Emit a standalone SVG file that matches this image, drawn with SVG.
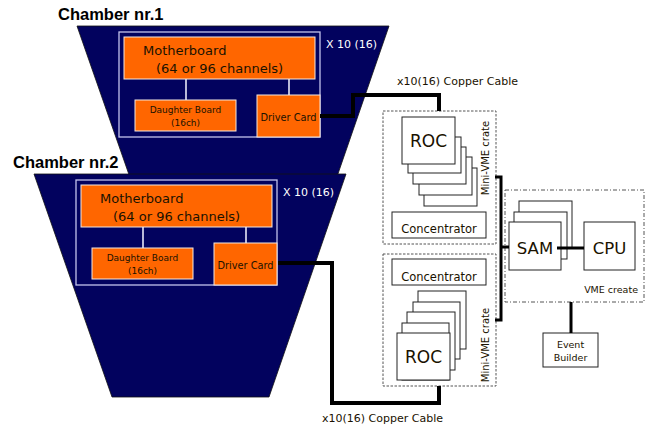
<svg xmlns="http://www.w3.org/2000/svg" width="652" height="431" viewBox="0 0 652 431">
<style>
.trap{fill:#02025e;stroke:#111;stroke-width:0.8}
.frame{fill:none;stroke:#c4c4ec;stroke-width:1.3}
.org{fill:#ff6600;stroke:#f4e8e0;stroke-width:1}
.t{font-family:"DejaVu Sans",Verdana,sans-serif;fill:#1a1200}
.w{font-family:"DejaVu Sans",Verdana,sans-serif;fill:#ffffff}
.ttl{font-family:"Liberation Sans",Arial,sans-serif;font-weight:bold;font-size:16.5px;fill:#000}
.box{fill:#fff;stroke:#222;stroke-width:1}
.dash{fill:none;stroke:#555;stroke-width:1;stroke-dasharray:2.5,1.5}
.dd{fill:none;stroke:#555;stroke-width:1;stroke-dasharray:4,2,1,2}
.cab{fill:none;stroke:#000;stroke-width:4;stroke-linejoin:miter}
.bus{fill:none;stroke:#000;stroke-width:3}
.wl{stroke:#e8e8f8;stroke-width:1.6}
</style>
<text class="ttl" x="58" y="20">Chamber nr.1</text>
<text class="ttl" x="13" y="168">Chamber nr.2</text>
<g id="chamber1">
<polygon class="trap" points="77,26 389,26 312,249 155,249"/>
<rect class="frame" x="119" y="32" width="201" height="105"/>
<text class="w" x="326" y="48" font-size="11">X 10 (16)</text>
<g id="motherboard1"><rect class="org" x="124" y="37" width="191" height="42"/>
<text class="t" x="143" y="55" font-size="13">Motherboard</text>
<text class="t" x="156" y="73" font-size="13">(64 or 96 channels)</text></g>
<g id="daughter1"><rect class="org" x="135" y="100" width="101" height="31"/>
<text class="t" x="185.5" y="113" font-size="9" text-anchor="middle">Daughter Board</text>
<text class="t" x="185.5" y="126" font-size="9" text-anchor="middle">(16ch)</text></g>
<g id="driver1"><rect class="org" x="257" y="95" width="63" height="42"/>
<text class="t" x="288.5" y="121" font-size="9.8" text-anchor="middle">Driver Card</text></g>
</g>
<g id="chamber2" transform="translate(-43,148)">
<polygon class="trap" points="77,26 389,26 312,249 155,249"/>
<rect class="frame" x="119" y="32" width="201" height="105"/>
<text class="w" x="326" y="48" font-size="11">X 10 (16)</text>
<g id="motherboard2"><rect class="org" x="124" y="37" width="191" height="42"/>
<text class="t" x="143" y="55" font-size="13">Motherboard</text>
<text class="t" x="156" y="73" font-size="13">(64 or 96 channels)</text></g>
<g id="daughter2"><rect class="org" x="135" y="100" width="101" height="31"/>
<text class="t" x="185.5" y="113" font-size="9" text-anchor="middle">Daughter Board</text>
<text class="t" x="185.5" y="126" font-size="9" text-anchor="middle">(16ch)</text></g>
<g id="driver2"><rect class="org" x="257" y="95" width="63" height="42"/>
<text class="t" x="288.5" y="121" font-size="9.8" text-anchor="middle">Driver Card</text></g>
</g>
<g id="crate1">
<rect class="dash" x="383" y="111" width="113" height="133"/>
<g id="roc1">
<rect class="box" x="424" y="168" width="53" height="38"/>
<rect class="box" x="419" y="157" width="53" height="38"/>
<rect class="box" x="413" y="147" width="53" height="37"/>
<rect class="box" x="408" y="137" width="53" height="36"/>
<rect class="box" x="402" y="117" width="53" height="47"/>
<text class="t" x="428.5" y="147" font-size="17" text-anchor="middle">ROC</text></g>
<g id="conc1"><rect class="box" x="392" y="212" width="94" height="26"/>
<text class="t" x="439" y="233" font-size="11.5" text-anchor="middle">Concentrator</text></g>
<text class="t" transform="translate(489,158) rotate(-90)" font-size="10" text-anchor="middle">Mini-VME crate</text>
</g>
<g id="crate2">
<rect class="dash" x="383" y="254" width="113" height="132"/>
<g id="conc2"><rect class="box" x="392" y="259" width="94" height="26"/>
<text class="t" x="439" y="281" font-size="11.5" text-anchor="middle">Concentrator</text></g>
<g id="roc2">
<rect class="box" x="418" y="291" width="48" height="58"/>
<rect class="box" x="413" y="302" width="47" height="57"/>
<rect class="box" x="407" y="312" width="48" height="58"/>
<rect class="box" x="402" y="323" width="47" height="57"/>
<rect class="box" x="397" y="333" width="53" height="47"/>
<text class="t" x="423.5" y="363" font-size="17" text-anchor="middle">ROC</text></g>
<text class="t" transform="translate(489,345) rotate(-90)" font-size="10" text-anchor="middle">Mini-VME crate</text>
</g>
<g id="vmecrate">
<rect class="dd" x="505" y="190" width="139" height="112"/>
<text class="t" x="638" y="293" font-size="9.5" text-anchor="end">VME create</text>
<g id="sam">
<rect class="box" x="519" y="201" width="53" height="47"/>
<rect class="box" x="514" y="212" width="53" height="47"/>
<rect class="box" x="509" y="222" width="52" height="48"/>
<text class="t" x="535" y="254" font-size="16.5" text-anchor="middle">SAM</text></g>
<g id="cpu"><rect class="box" x="584" y="222" width="51" height="48"/>
<text class="t" x="609.5" y="254" font-size="16.5" text-anchor="middle">CPU</text></g>
</g>
<g id="eventbuilder"><rect class="box" x="543" y="333" width="55" height="34"/>
<text class="t" x="570.5" y="348" font-size="9.5" text-anchor="middle">Event</text>
<text class="t" x="570.5" y="361" font-size="9.5" text-anchor="middle">Builder</text></g>
<g id="connectors">
<line class="wl" x1="186" y1="79" x2="186" y2="100"/>
<line class="wl" x1="289" y1="79" x2="289" y2="95"/>
<line class="wl" x1="143" y1="227" x2="143" y2="248"/>
<line class="wl" x1="246" y1="227" x2="246" y2="243"/>
<polyline class="cab" points="320,116 353,116 353,95 439,95 439,111"/>
<polyline class="cab" points="278,263 332,263 332,403 439,403 439,386"/>
<polyline class="bus" points="495,177 501,177 501,320 495,320"/>
<line class="bus" x1="501" y1="247" x2="509" y2="247"/>
<line class="bus" x1="557" y1="248" x2="584" y2="248"/>
<line class="bus" x1="571" y1="302" x2="571" y2="333"/>
<text class="t" x="397" y="85" font-size="11">x10(16) Copper Cable</text>
<text class="t" x="322" y="422" font-size="11">x10(16) Copper Cable</text>
</g>
</svg>
